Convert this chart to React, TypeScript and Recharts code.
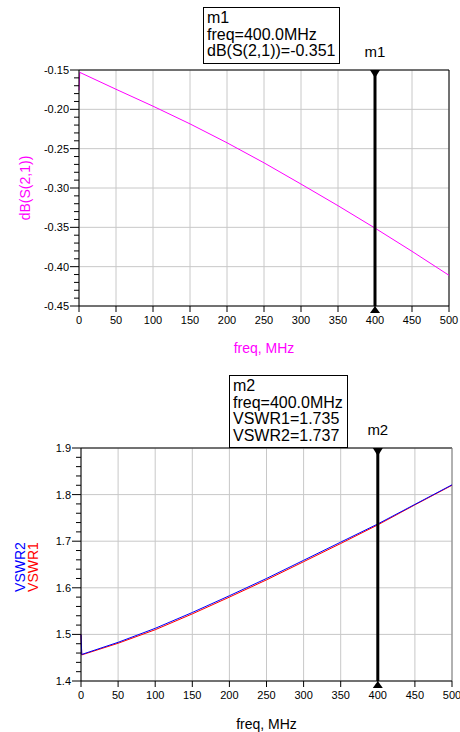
import {
  LineChart,
  Line,
  XAxis,
  YAxis,
  CartesianGrid,
  ReferenceLine,
  Label,
} from "recharts";

// frequency points (MHz)
const freqs = [0, 1, 50, 100, 150, 200, 250, 300, 350, 400, 450, 500];
// dB(S(2,1))
const dbS21 = [-0.176, -0.153, -0.1745, -0.196, -0.2185, -0.2425, -0.268, -0.295, -0.3225, -0.351, -0.3805, -0.411];
// VSWR
const vswr1 = [1.5, 1.456, 1.481, 1.510, 1.544, 1.580, 1.617, 1.656, 1.695, 1.735, 1.778, 1.820];
const vswr2 = [1.5, 1.457, 1.483, 1.513, 1.547, 1.583, 1.620, 1.659, 1.698, 1.737, 1.779, 1.821];

const freqTicks = [0, 50, 100, 150, 200, 250, 300, 350, 400, 450, 500];
const dbTicks = [-0.45, -0.4, -0.35, -0.3, -0.25, -0.2, -0.15];
const vswrTicks = [1.4, 1.5, 1.6, 1.7, 1.8, 1.9];
const markerFreq = 400;

const dbData = freqs.map((f, i) => ({ f, db: dbS21[i] }));
const vswrData = freqs.map((f, i) => ({ f, vswr1: vswr1[i], vswr2: vswr2[i] }));

// 4 minor ticks between every pair of major ticks
const withMinors = (majors: number[]) => {
  const out: number[] = [];
  for (let i = 0; i < majors.length - 1; i++) {
    const step = (majors[i + 1] - majors[i]) / 5;
    for (let k = 0; k < 5; k++) out.push(+(majors[i] + step * k).toFixed(4));
  }
  out.push(majors[majors.length - 1]);
  return out;
};

const GRID = "#c8c8c8";
const FONT = "'Liberation Sans', Arial, sans-serif";

const makeYTick = (majors: number[], digits: number) => (props: any) => {
  const { x, y, payload } = props;
  const isMajor = majors.some((m) => Math.abs(m - payload.value) < 1e-6);
  return (
    <g>
      <line x1={x - (isMajor ? 9 : 5)} x2={x} y1={y} y2={y} stroke="#000" />
      {isMajor && (
        <text x={x - 10} y={y} textAnchor="end" dominantBaseline="central" fontSize={11} fill="#000">
          {payload.value.toFixed(digits)}
        </text>
      )}
    </g>
  );
};

const markerShape = (name: string) => (p: any) => {
  const x = p.x1;
  const top = Math.min(p.y1, p.y2);
  const bottom = Math.max(p.y1, p.y2);
  return (
    <g>
      <line x1={x} x2={x} y1={top} y2={bottom} stroke="#000" strokeWidth={3} />
      <polygon points={`${x - 5},${top} ${x + 5},${top} ${x},${top + 8}`} fill="#000" />
      <polygon points={`${x - 5},${bottom + 7} ${x + 5},${bottom + 7} ${x},${bottom}`} fill="#000" />
      <text x={x} y={top - 13} textAnchor="middle" fontSize={15} fill="#000">
        {name}
      </text>
    </g>
  );
};

const MarkerBox = ({ lines, left, top, width }: { lines: string[]; left: number; top: number; width: number }) => (
  <div
    style={{
      position: "absolute",
      left,
      top,
      width,
      border: "1px solid #000",
      background: "#fff",
      fontSize: 16,
      lineHeight: "16.5px",
      padding: "2px 3px 3px 3px",
      boxSizing: "border-box",
      whiteSpace: "nowrap",
    }}
  >
    {lines.map((l) => (
      <div key={l}>{l}</div>
    ))}
  </div>
);

export default function App() {
  return (
    <div style={{ position: "absolute", left: 0, top: 0, width: 460, height: 732, background: "#fff", fontFamily: FONT }}>
      <LineChart width={460} height={360} data={dbData} margin={{ top: 70, right: 11, bottom: 0, left: 0 }}>
        <CartesianGrid stroke={GRID} horizontalValues={dbTicks} verticalValues={freqTicks} />
        <XAxis
          dataKey="f"
          type="number"
          domain={[0, 500]}
          ticks={freqTicks}
          interval={0}
          height={54}
          tickSize={6}
          tickMargin={4}
          stroke="#000"
          tick={{ fill: "#000", fontSize: 11 }}
        >
          <Label
            content={(p: any) => (
              <text x={p.viewBox.x + p.viewBox.width / 2} y={353} textAnchor="middle" fontSize={14} fill="#ff00ff">
                freq, MHz
              </text>
            )}
          />
        </XAxis>
        <YAxis
          type="number"
          domain={[-0.45, -0.15]}
          ticks={withMinors(dbTicks)}
          interval={0}
          width={79}
          tickSize={0}
          tickMargin={0}
          tickLine={false}
          stroke="#000"
          tick={makeYTick(dbTicks, 2)}
        >
          <Label
            content={() => (
              <text x={25} y={188} transform="rotate(-90 25 188)" textAnchor="middle" dominantBaseline="central" fontSize={14} fill="#ff00ff">
                dB(S(2,1))
              </text>
            )}
          />
        </YAxis>
        <ReferenceLine y={-0.15} stroke="#000" />
        <ReferenceLine x={500} stroke="#000" />
        <Line dataKey="db" stroke="#ff00ff" strokeWidth={1} dot={false} type="linear" isAnimationActive={false} />
        <ReferenceLine x={markerFreq} ifOverflow="visible" shape={markerShape("m1")} />
      </LineChart>

      <LineChart width={460} height={372} data={vswrData} margin={{ top: 88, right: 8, bottom: 0, left: 0 }}>
        <CartesianGrid stroke={GRID} horizontalValues={vswrTicks} verticalValues={freqTicks} />
        <XAxis
          dataKey="f"
          type="number"
          domain={[0, 500]}
          ticks={freqTicks}
          interval={0}
          height={51}
          tickSize={6}
          tickMargin={4}
          stroke="#000"
          tick={{ fill: "#000", fontSize: 11 }}
        >
          <Label
            content={(p: any) => (
              <text x={p.viewBox.x + p.viewBox.width / 2} y={369} textAnchor="middle" fontSize={14} fill="#000">
                freq, MHz
              </text>
            )}
          />
        </XAxis>
        <YAxis
          type="number"
          domain={[1.4, 1.9]}
          ticks={withMinors(vswrTicks)}
          interval={0}
          width={81}
          tickSize={0}
          tickMargin={0}
          tickLine={false}
          stroke="#000"
          tick={makeYTick(vswrTicks, 1)}
        >
          <Label
            content={() => (
              <g>
                <text x={20} y={207} transform="rotate(-90 20 207)" textAnchor="middle" dominantBaseline="central" fontSize={14} fill="#0000ff">
                  VSWR2
                </text>
                <text x={33} y={207} transform="rotate(-90 33 207)" textAnchor="middle" dominantBaseline="central" fontSize={14} fill="#ff0000">
                  VSWR1
                </text>
              </g>
            )}
          />
        </YAxis>
        <ReferenceLine y={1.9} stroke="#000" />
        <ReferenceLine x={500} stroke="#808080" />
        <Line dataKey="vswr1" stroke="#ff0000" strokeWidth={1} dot={false} type="linear" isAnimationActive={false} />
        <Line dataKey="vswr2" stroke="#0000ff" strokeWidth={1} dot={false} type="linear" isAnimationActive={false} />
        <ReferenceLine x={markerFreq} ifOverflow="visible" shape={markerShape("m2")} />
      </LineChart>

      <MarkerBox lines={["m1", "freq=400.0MHz", "dB(S(2,1))=-0.351"]} left={203} top={7} width={137} />
      <MarkerBox lines={["m2", "freq=400.0MHz", "VSWR1=1.735", "VSWR2=1.737"]} left={229} top={375} width={119} />
    </div>
  );
}
